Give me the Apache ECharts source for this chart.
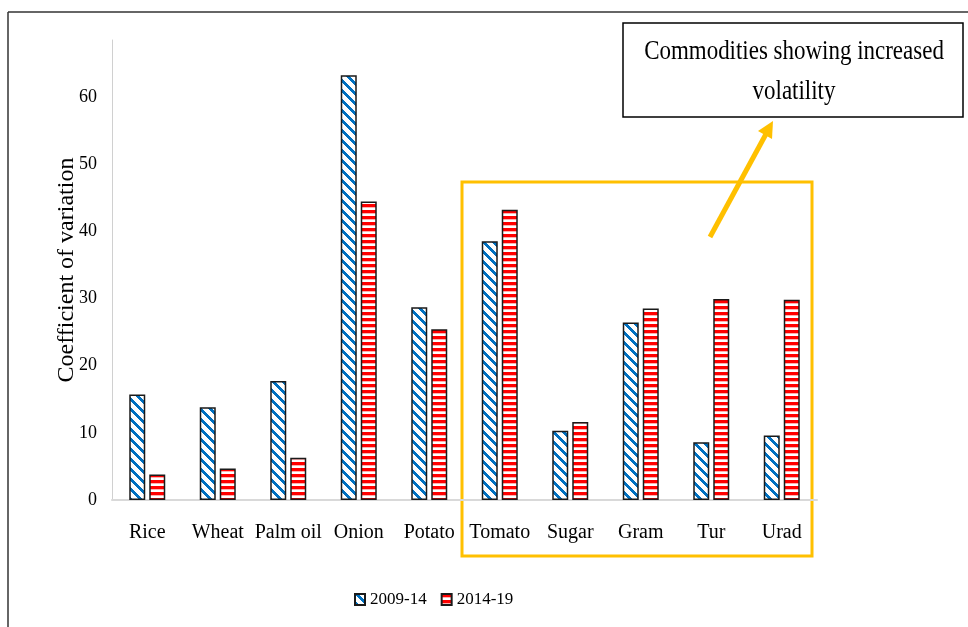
<!DOCTYPE html>
<html>
<head>
<meta charset="utf-8">
<script src="https://cdn.jsdelivr.net/npm/echarts@6/dist/echarts.min.js"></script>
<style>
  html, body { margin: 0; padding: 0; background: #fff; }
  #chart { width: 968px; height: 627px; }
</style>
</head>
<body>
<div id="chart"></div>
<script>
// Commodity price volatility (coefficient of variation) for two periods
const categories = ['Rice', 'Wheat', 'Palm oil', 'Onion', 'Potato', 'Tomato', 'Sugar', 'Gram', 'Tur', 'Urad'];
const cv2009_14 = [15.7, 13.8, 17.7, 63.2, 28.7, 38.5, 10.3, 26.4, 8.6, 9.6];
const cv2014_19 = [3.8, 4.7, 6.3, 44.4, 25.4, 43.2, 11.6, 28.5, 29.9, 29.8];
const yTicks = [0, 10, 20, 30, 40, 50, 60];
const seriesNames = ['2009-14', '2014-19'];
const noteText = 'Commodities showing increased\nvolatility';

const SERIF = '"Liberation Serif", "DejaVu Serif", serif';

// Diagonal blue hatching
function diagonalPattern() {
  const n = 10;
  const c = document.createElement('canvas');
  c.width = n; c.height = n;
  const ctx = c.getContext('2d');
  const img = ctx.createImageData(n, n);
  for (let y = 0; y < n; y++) {
    for (let x = 0; x < n; x++) {
      const i = (y * n + x) * 4;
      const d = ((x - y) % n + n) % n;
      const blue = d < 4;
      img.data[i] = blue ? 0 : 255;
      img.data[i + 1] = blue ? 112 : 255;
      img.data[i + 2] = blue ? 192 : 255;
      img.data[i + 3] = 255;
    }
  }
  ctx.putImageData(img, 0, 0);
  return c;
}

// Horizontal red stripes
function stripePattern() {
  const c = document.createElement('canvas');
  c.width = 6; c.height = 6;
  const ctx = c.getContext('2d');
  ctx.fillStyle = '#ffffff';
  ctx.fillRect(0, 0, 6, 6);
  ctx.fillStyle = '#ff0000';
  ctx.fillRect(0, 0, 6, 3);
  ctx.fillStyle = '#ffb0b0';
  ctx.fillRect(0, 3, 6, 1);
  return c;
}

const bluePattern = { image: diagonalPattern(), repeat: 'repeat' };
const redPattern = { image: stripePattern(), repeat: 'repeat' };

const chart = echarts.init(document.getElementById('chart'), null, { renderer: 'canvas' });

const GRID = { left: 112, top: 40, width: 705, height: 460 };
const yMax = 68.45;

const option = {
  backgroundColor: '#ffffff',
  animation: false,
  grid: GRID,
  legend: {
    data: seriesNames,
    left: 349,
    top: 586,
    itemWidth: 10,
    itemHeight: 11,
    itemGap: 14,
    icon: 'rect',
    textStyle: { fontFamily: SERIF, fontSize: 17, color: '#000' }
  },
  xAxis: {
    type: 'category',
    data: categories,
    axisLine: { show: true, lineStyle: { color: '#d9d9d9', width: 2 } },
    axisTick: { show: false },
    axisLabel: { fontFamily: SERIF, fontSize: 20, color: '#000', margin: 23, interval: 0 },
    splitLine: { show: false }
  },
  yAxis: {
    type: 'value',
    min: 0,
    max: yMax,
    interval: 10,
    name: 'Coefficient of variation',
    nameLocation: 'middle',
    nameGap: 33,
    nameMoveOverlap: false,
    nameRotate: 90,
    nameTextStyle: { fontFamily: SERIF, fontSize: 24, color: '#000' },
    axisLine: { show: true, lineStyle: { color: '#d0d0d0', width: 1 } },
    axisTick: { show: false },
    axisLabel: {
      fontFamily: SERIF, fontSize: 18, color: '#000', margin: 15,
      showMaxLabel: false,
      formatter: v => (yTicks.indexOf(v) >= 0 ? String(v) : '')
    },
    splitLine: { show: false }
  },
  series: [
    {
      name: seriesNames[0],
      type: 'bar',
      data: cv2009_14,
      barWidth: 16,
      barGap: '25%',
      itemStyle: { color: bluePattern, borderColor: '#1a1a1a', borderWidth: 1.5 }
    },
    {
      name: seriesNames[1],
      type: 'bar',
      data: cv2014_19,
      barWidth: 16,
      itemStyle: { color: redPattern, borderColor: '#1a1a1a', borderWidth: 1.5 }
    }
  ],
  graphic: [
    // outer frame
    { type: 'line', shape: { x1: 8, y1: 12, x2: 968, y2: 12 }, style: { stroke: '#333', lineWidth: 1.5 } },
    { type: 'line', shape: { x1: 8, y1: 12, x2: 8, y2: 627 }, style: { stroke: '#333', lineWidth: 1.5 } },
    // highlight box around commodities with increased volatility
    { type: 'rect', shape: { x: 462, y: 182, width: 350, height: 374 }, style: { fill: 'none', stroke: '#ffc000', lineWidth: 3 } },
    // arrow
    { type: 'line', shape: { x1: 710, y1: 237, x2: 766, y2: 134 }, style: { stroke: '#ffc000', lineWidth: 5 } },
    { type: 'polygon', shape: { points: [[773, 121], [772, 139], [758, 131]] }, style: { fill: '#ffc000' } },
    // note box
    { type: 'rect', shape: { x: 623, y: 23, width: 340, height: 94 }, style: { fill: '#fff', stroke: '#000', lineWidth: 1.5 } },
    {
      type: 'text', x: 794, y: 32, scaleX: 0.82,
      style: {
        text: noteText, align: 'center', verticalAlign: 'top',
        fontFamily: SERIF, fontSize: 28, lineHeight: 40, fill: '#000'
      }
    }
  ]
};

chart.setOption(option);
</script>
</body>
</html>
